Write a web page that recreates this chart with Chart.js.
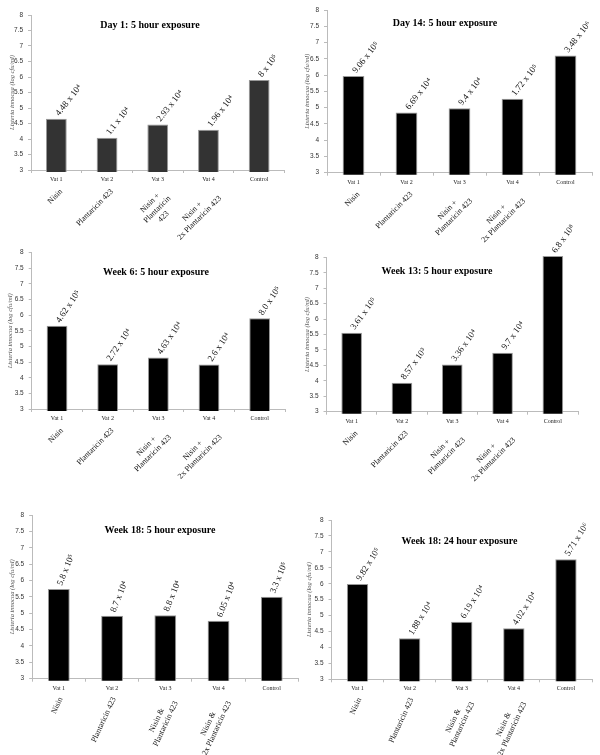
<!DOCTYPE html>
<html>
<head>
<meta charset="utf-8">
<script src="https://cdn.jsdelivr.net/npm/chart.js@4.4.1/dist/chart.umd.min.js"></script>
<style>
  body { margin: 0; background: #fff; width: 600px; height: 755px; position: relative; overflow: hidden; }
  canvas { position: absolute; }
</style>
</head>
<body>
<script>
// Kategorien (Vats) und Behandlungen
var categories = ['Vat 1', 'Vat 2', 'Vat 3', 'Vat 4', 'Control'];
var treatmentsDay1 = [['Nisin'], ['Plantaricin 423'], ['Nisin +', 'Plantaricin', '423'], ['Nisin +', '2x Plantaricin 423'], ''];
var treatmentsPlus = [['Nisin'], ['Plantaricin 423'], ['Nisin +', 'Plantaricin 423'], ['Nisin +', '2x Plantaricin 423'], ''];
var treatmentsAnd = [['Nisin'], ['Plantaricin 423'], ['Nisin &', 'Plantaricin 423'], ['Nisin &', '2x Plantaricin 423'], ''];

var titles = ['Day 1: 5 hour exposure', 'Day 14: 5 hour exposure', 'Week 6: 5 hour exposure',
              'Week 13: 5 hour exposure', 'Week 18: 5 hour exposure', 'Week 18: 24 hour exposure'];

// Werte (log cfu/ml)
var day1 = [4.65, 4.04, 4.47, 4.30, 5.90];
var day14 = [5.97, 4.85, 4.98, 5.27, 6.60];
var week6 = [5.66, 4.43, 4.65, 4.42, 5.90];
var week13 = [5.56, 3.94, 4.53, 4.91, 8.04];
var week18 = [5.74, 4.92, 4.94, 4.77, 5.50];
var week18_24h = [5.99, 4.29, 4.81, 4.60, 6.77];

// Beschriftungen über den Balken (cfu/ml)
var day1Labels = ['4.48 x 10⁴', '1.1 x 10⁴', '2.93 x 10⁴', '1.96 x 10⁴', '8 x 10⁵'];
var day14Labels = ['9.06 x 10⁵', '6.69 x 10⁴', '9.4 x 10⁴', '1.72 x 10⁵', '3.48 x 10⁶'];
var week6Labels = ['4.62 x 10⁵', '2.72 x 10⁴', '4.63 x 10⁴', '2.6 x 10⁴', '8.0 x 10⁵'];
var week13Labels = ['3.61 x 10⁵', '8.57 x 10³', '3.36 x 10⁴', '9.7 x 10⁴', '6.8 x 10⁸'];
var week18Labels = ['5.8 x 10⁵', '8.7 x 10⁴', '8.8 x 10⁴', '6.05 x 10⁴', '3.3 x 10⁵'];
var week18_24hLabels = ['9.82 x 10⁵', '1.88 x 10⁴', '6.19 x 10⁴', '4.02 x 10⁴', '5.71 x 10⁶'];

// y-Achse
var yMin = 3;
var yMax = 8;
var yStep = 0.5;
var yTitle = 'Listeria innocua (log cfu/ml)';

// Layout der Panels (Seitenkoordinaten)
var panels = [
    { values: day1, labels: day1Labels, treatments: treatmentsDay1, title: titles[0], color: '#333',
      box: [0, 0, 300, 250], area: [31, 15, 284.5, 170], titleAt: [150, 25], yTitleX: 12.3, labelAngle: 52, tickRot: 45, tickShift: 5 },
    { values: day14, labels: day14Labels, treatments: treatmentsPlus, title: titles[1], color: '#000',
      box: [300, 0, 300, 250], area: [327, 10, 592, 172.7], titleAt: [445, 23], yTitleX: 7.5, labelAngle: 52, tickRot: 45, tickShift: 5 },
    { values: week6, labels: week6Labels, treatments: treatmentsPlus, title: titles[2], color: '#000',
      box: [0, 205, 300, 300], area: [31.7, 252.7, 285, 409], titleAt: [156, 272], yTitleX: 10.5, labelAngle: 56, tickRot: 45, tickShift: 5 },
    { values: week13, labels: week13Labels, treatments: treatmentsPlus, title: titles[3], color: '#000',
      box: [300, 205, 300, 300], area: [326.5, 257.3, 578, 411.7], titleAt: [437, 271], yTitleX: 7.5, labelAngle: 54, tickRot: 45, tickShift: 5 },
    { values: week18, labels: week18Labels, treatments: treatmentsAnd, title: titles[4], color: '#000',
      box: [0, 470, 300, 285], area: [32.2, 515, 298.4, 678.7], titleAt: [160, 530], yTitleX: 12.3, labelAngle: 68, tickRot: 65, tickShift: 2 },
    { values: week18_24h, labels: week18_24hLabels, treatments: treatmentsAnd, title: titles[5], color: '#000',
      box: [300, 470, 300, 285], area: [331.5, 520, 592, 679.3], titleAt: [459.5, 541.7], yTitleX: 9.5, labelAngle: 58, tickRot: 65, tickShift: 2 }
];

var serif = '"Liberation Serif", "Times New Roman", serif';
var sans = '"Liberation Sans", Arial, sans-serif';
var treatmentFontSize = 8;

// Hilfs-Kontext zum Messen, damit mehrzeilige Beschriftungen zentriert wirken
var measureCtx = document.createElement('canvas').getContext('2d');
measureCtx.font = treatmentFontSize + 'px ' + serif;

function centerLines(label) {
    if (!Array.isArray(label) || label.length < 2) return label;
    var widths = label.map(function(l) { return measureCtx.measureText(l).width; });
    var maxW = Math.max.apply(null, widths);
    var spaceW = measureCtx.measureText(' ').width;
    return label.map(function(l, i) {
        var n = Math.round((maxW - widths[i]) / 2 / spaceW);
        return l + ' '.repeat(n);
    });
}

// Titel innerhalb der Zeichenfläche
var panelTitlePlugin = {
    id: 'panelTitle',
    afterDraw: function(chart, args, opts) {
        var ctx = chart.ctx;
        ctx.save();
        ctx.font = 'bold 10px ' + serif;
        ctx.fillStyle = '#000';
        ctx.textAlign = 'center';
        ctx.textBaseline = 'middle';
        ctx.fillText(opts.text, opts.x, opts.y);
        ctx.restore();
    }
};

// gedrehte Werte über den Balken
var valueLabelPlugin = {
    id: 'valueLabels',
    afterDatasetsDraw: function(chart, args, opts) {
        var ctx = chart.ctx;
        var meta = chart.getDatasetMeta(0);
        ctx.save();
        ctx.font = '9px ' + serif;
        ctx.fillStyle = '#111';
        ctx.textAlign = 'left';
        ctx.textBaseline = 'middle';
        meta.data.forEach(function(bar, i) {
            ctx.save();
            ctx.translate(bar.x + 1, bar.y - 4);
            ctx.rotate(-opts.angle * Math.PI / 180);
            ctx.fillText(opts.labels[i], 0, 0);
            ctx.restore();
        });
        ctx.restore();
    }
};

panels.forEach(function(p, n) {
    var canvas = document.createElement('canvas');
    canvas.width = p.box[2];
    canvas.height = p.box[3];
    canvas.style.left = p.box[0] + 'px';
    canvas.style.top = p.box[1] + 'px';
    document.body.appendChild(canvas);

    var yWidth = p.area[0] - p.box[0];
    var padTop = p.area[1] - p.box[1];
    var padRight = p.box[0] + p.box[2] - p.area[2];
    var x1Height = 14;
    var x2Height = p.box[1] + p.box[3] - p.area[3] - x1Height;

    new Chart(canvas.getContext('2d'), {
        type: 'bar',
        data: {
            labels: categories,
            datasets: [{
                data: p.values,
                xAxisID: 'x',
                backgroundColor: p.color,
                borderColor: '#999',
                borderWidth: 1,
                categoryPercentage: 1,
                barPercentage: 0.41,
                clip: 2
            }]
        },
        options: {
            responsive: false,
            animation: false,
            devicePixelRatio: 1,
            layout: { padding: { top: padTop, right: padRight, left: 0, bottom: 0 } },
            plugins: {
                legend: { display: false },
                tooltip: { enabled: false },
                panelTitle: { text: p.title, x: p.titleAt[0] - p.box[0], y: p.titleAt[1] - p.box[1] },
                valueLabels: { labels: p.labels, angle: p.labelAngle }
            },
            scales: {
                y: {
                    min: yMin,
                    max: yMax,
                    afterFit: function(scale) { scale.width = yWidth; },
                    ticks: {
                        stepSize: yStep,
                        color: '#333',
                        font: { family: sans, size: 6.5 },
                        padding: 5,
                        callback: function(v) { return String(v); }
                    },
                    grid: { drawOnChartArea: false, tickLength: 3, color: '#bbb' },
                    border: { color: '#bbb' },
                    title: {
                        display: true,
                        text: yTitle,
                        color: '#555',
                        font: { family: serif, size: 6.5, style: 'italic' },
                        padding: { top: p.yTitleX - 3.9, bottom: 0 }
                    }
                },
                x: {
                    type: 'category',
                    position: 'bottom',
                    offset: true,
                    afterFit: function(scale) { scale.height = x1Height; },
                    ticks: { color: '#222', font: { family: serif, size: 6 }, maxRotation: 0, autoSkip: false },
                    grid: { drawOnChartArea: false, offset: true, tickLength: 3, color: '#bbb' },
                    border: { color: '#bbb' }
                },
                x2: {
                    type: 'category',
                    position: 'bottom',
                    labels: p.treatments,
                    offset: true,
                    afterFit: function(scale) { scale.height = x2Height; },
                    ticks: {
                        color: '#111',
                        font: { family: serif, size: treatmentFontSize },
                        minRotation: p.tickRot,
                        maxRotation: p.tickRot,
                        autoSkip: false,
                        padding: -5,
                        labelOffset: p.tickShift,
                        callback: function(value) { return centerLines(this.getLabelForValue(value)); }
                    },
                    grid: { display: false },
                    border: { display: false }
                }
            }
        },
        plugins: [panelTitlePlugin, valueLabelPlugin]
    });
});
</script>
</body>
</html>
